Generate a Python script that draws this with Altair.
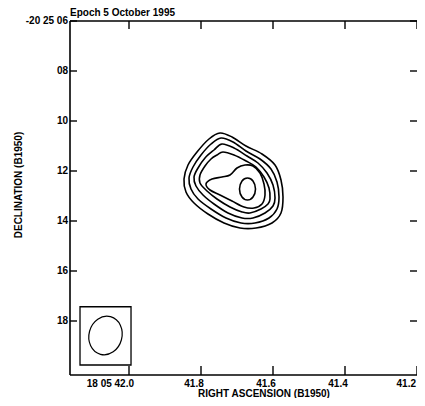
import altair as alt
import pandas as pd

FONT = "Liberation Sans"
TITLE = "Epoch 5 October 1995"
X_TITLE = "RIGHT ASCENSION (B1950)"
Y_TITLE = "DECLINATION (B1950)"

RA_TICKS = [42.0, 41.8, 41.6, 41.4, 41.2]
RA_LABELS = ["18 05 42.0", "41.8", "41.6", "41.4", "41.2"]
DEC_TICKS = [6, 8, 10, 12, 14, 16, 18]
DEC_LABELS = ["-20 25 06", "08", "10", "12", "14", "16", "18"]
RA_RANGE = [41.2, 42.1639]
DEC_RANGE = [6.0, 20.16]

# contour vertices: RA (seconds of 18h05m) and Dec (arcsec of -20d25')
C1_RA = [41.7472, 41.7139, 41.6750, 41.6306, 41.5944, 41.5778, 41.5722, 41.5778, 41.6028, 41.6472,
         41.6917, 41.7361, 41.7806, 41.8194, 41.8417, 41.8472, 41.8361, 41.8111, 41.7778]
C1_DEC = [10.48, 10.64, 11.00, 11.32, 11.76, 12.36, 13.04, 13.68, 14.08, 14.28,
          14.28, 14.08, 13.72, 13.28, 12.84, 12.32, 11.76, 11.24, 10.72]
C2_RA = [41.7444, 41.7111, 41.6750, 41.6361, 41.6056, 41.5889, 41.5833, 41.5889, 41.6111, 41.6500,
         41.6889, 41.7306, 41.7722, 41.8083, 41.8278, 41.8333, 41.8222, 41.8000, 41.7722]
C2_DEC = [10.68, 10.84, 11.20, 11.52, 11.92, 12.44, 13.04, 13.52, 13.88, 14.08,
          14.08, 13.88, 13.52, 13.12, 12.72, 12.28, 11.84, 11.36, 10.92]
C3_RA = [41.7417, 41.7083, 41.6722, 41.6417, 41.6167, 41.6000, 41.5944, 41.6000, 41.6222, 41.6556,
         41.6861, 41.7250, 41.7639, 41.7944, 41.8139, 41.8194, 41.8083, 41.7889, 41.7639]
C3_DEC = [10.92, 11.08, 11.40, 11.68, 12.08, 12.56, 13.08, 13.40, 13.68, 13.88,
          13.88, 13.68, 13.32, 12.96, 12.60, 12.24, 11.88, 11.48, 11.16]
C4_RA = [41.7389, 41.7083, 41.6750, 41.6472, 41.6250, 41.6111, 41.6083, 41.6139, 41.6333, 41.6639,
         41.6861, 41.7194, 41.7556, 41.7833, 41.8028, 41.8028, 41.7889, 41.7722, 41.7556]
C4_DEC = [11.24, 11.36, 11.60, 11.84, 12.24, 12.68, 13.12, 13.32, 13.52, 13.68,
          13.64, 13.44, 13.12, 12.80, 12.48, 12.16, 11.80, 11.52, 11.36]
C5_RA = [41.7861, 41.7694, 41.7417, 41.7194, 41.7000, 41.6778, 41.6556, 41.6361, 41.6250, 41.6222,
         41.6306, 41.6528, 41.6806, 41.7139, 41.7472, 41.7750]
C5_DEC = [12.52, 12.32, 12.24, 12.16, 11.88, 11.76, 11.80, 12.08, 12.52, 12.96,
          13.32, 13.48, 13.44, 13.20, 12.96, 12.76]
C6_RA = [41.6708, 41.6556, 41.6486, 41.6556, 41.6708, 41.6861, 41.6931, 41.6861]
C6_DEC = [12.28, 12.40, 12.72, 13.04, 13.16, 13.04, 12.72, 12.40]

# restoring beam: box corners and ellipse centre
BEAM_BOX_RA = [42.1361, 41.9944]
BEAM_BOX_DEC = [17.43, 19.76]
BEAM_RA = [42.0653]
BEAM_DEC = [18.58]

contours = [(C1_RA, C1_DEC), (C2_RA, C2_DEC), (C3_RA, C3_DEC),
            (C4_RA, C4_DEC), (C5_RA, C5_DEC), (C6_RA, C6_DEC)]
rows = []
for k, (ras, decs) in enumerate(contours, start=1):
    for i, (r, d) in enumerate(zip(ras, decs)):
        rows.append({"level": k, "idx": i, "ra": r, "dec": d})
df = pd.DataFrame(rows)

W, H = 347, 354
xscale = alt.Scale(domain=RA_RANGE, reverse=True, nice=False, zero=False)
yscale = alt.Scale(domain=DEC_RANGE, reverse=True, nice=False, zero=False)
TXT = dict(font=FONT, fontSize=10, fontWeight="bold", color="black")


def X(field):
    return alt.X(field, scale=xscale, axis=None)


def Y(field):
    return alt.Y(field, scale=yscale, axis=None)


contour = alt.Chart(df).mark_line(
    interpolate="cardinal-closed", color="black", strokeWidth=1.6
).encode(x=X("ra:Q"), y=Y("dec:Q"), detail="level:N", order="idx:Q")

one = pd.DataFrame({"a": [0]})
frame_left = alt.Chart(one).mark_rule(color="black", strokeWidth=1.6).encode(
    x=alt.value(0), y=alt.value(0), y2=alt.value(H))
frame_top = alt.Chart(one).mark_rule(color="black", strokeWidth=1.6).encode(
    x=alt.value(0), x2=alt.value(W), y=alt.value(0))
frame_bottom = alt.Chart(one).mark_rule(color="black", strokeWidth=1.6).encode(
    x=alt.value(0), x2=alt.value(W), y=alt.value(H))

ra_df = pd.DataFrame({"ra": RA_TICKS, "label": RA_LABELS})
dec_df = pd.DataFrame({"dec": DEC_TICKS, "label": DEC_LABELS})
tick_top = alt.Chart(ra_df).mark_rule(color="black", strokeWidth=1.4).encode(
    x=X("ra:Q"), y=alt.value(0), y2=alt.value(8))
tick_bottom = alt.Chart(ra_df).mark_rule(color="black", strokeWidth=1.4).encode(
    x=X("ra:Q"), y=alt.value(H - 9), y2=alt.value(H))
tick_left = alt.Chart(dec_df).mark_rule(color="black", strokeWidth=1.4).encode(
    y=Y("dec:Q"), x=alt.value(0), x2=alt.value(7))
tick_right = alt.Chart(dec_df).mark_rule(color="black", strokeWidth=1.4).encode(
    y=Y("dec:Q"), x=alt.value(W - 7), x2=alt.value(W))

x_lab_first = alt.Chart(ra_df).transform_filter("datum.ra >= 42").mark_text(
    align="right", baseline="top", dx=5, **TXT
).encode(x=X("ra:Q"), y=alt.value(H + 4), text="label:N")
x_lab_mid = alt.Chart(ra_df).transform_filter("datum.ra < 42 && datum.ra > 41.3").mark_text(
    align="center", baseline="top", dx=-7, **TXT
).encode(x=X("ra:Q"), y=alt.value(H + 4), text="label:N")
x_lab_last = alt.Chart(ra_df).transform_filter("datum.ra < 41.3").mark_text(
    align="right", baseline="top", dx=-1, **TXT
).encode(x=X("ra:Q"), y=alt.value(H + 4), text="label:N")
y_lab = alt.Chart(dec_df).mark_text(align="right", baseline="middle", **TXT).encode(
    y=Y("dec:Q"), x=alt.value(-2), text="label:N")

x_title = alt.Chart(pd.DataFrame({"t": [X_TITLE]})).mark_text(
    align="center", baseline="middle", **TXT
).encode(x=alt.value(194), y=alt.value(H + 19), text="t:N")
y_title = alt.Chart(pd.DataFrame({"t": [Y_TITLE]})).mark_text(
    align="center", baseline="middle", angle=270, **TXT
).encode(x=alt.value(-51), y=alt.value(164), text="t:N")
top_title = alt.Chart(pd.DataFrame({"t": [TITLE]})).mark_text(
    align="left", baseline="alphabetic", **TXT
).encode(x=alt.value(0), y=alt.value(-5), text="t:N")

box_df = pd.DataFrame({"x1": [BEAM_BOX_RA[0]], "x2": [BEAM_BOX_RA[1]],
                       "y1": [BEAM_BOX_DEC[0]], "y2": [BEAM_BOX_DEC[1]]})
beam_box = alt.Chart(box_df).mark_rect(fill="white", stroke="black", strokeWidth=1.3).encode(
    x=X("x1:Q"), x2="x2:Q", y=Y("y1:Q"), y2="y2:Q")

ELLIPSE = ("M 0,-1.18 C 0.5523,-1.18 1,-0.6517 1,0 C 1,0.6517 0.5523,1.18 0,1.18 "
           "C -0.5523,1.18 -1,0.6517 -1,0 C -1,-0.6517 -0.5523,-1.18 0,-1.18 Z")
beam_df = pd.DataFrame({"ra": BEAM_RA, "dec": BEAM_DEC})
beam = alt.Chart(beam_df).mark_point(
    shape=ELLIPSE, size=1089, angle=15, filled=False, stroke="black", strokeWidth=1.2, opacity=1
).encode(x=X("ra:Q"), y=Y("dec:Q"))

chart = alt.layer(
    contour, frame_left, frame_top, frame_bottom, tick_top, tick_bottom, tick_left, tick_right,
    x_lab_first, x_lab_mid, x_lab_last, y_lab, x_title, y_title, top_title, beam_box, beam
).properties(
    width=W, height=H,
    padding={"left": 62, "top": 13, "right": 0, "bottom": 23},
    autosize=alt.AutoSizeParams(type="none"),
    background="white",
).configure_view(stroke=None)

chart.save("out.html", embed_options={"renderer": "svg", "actions": False})
